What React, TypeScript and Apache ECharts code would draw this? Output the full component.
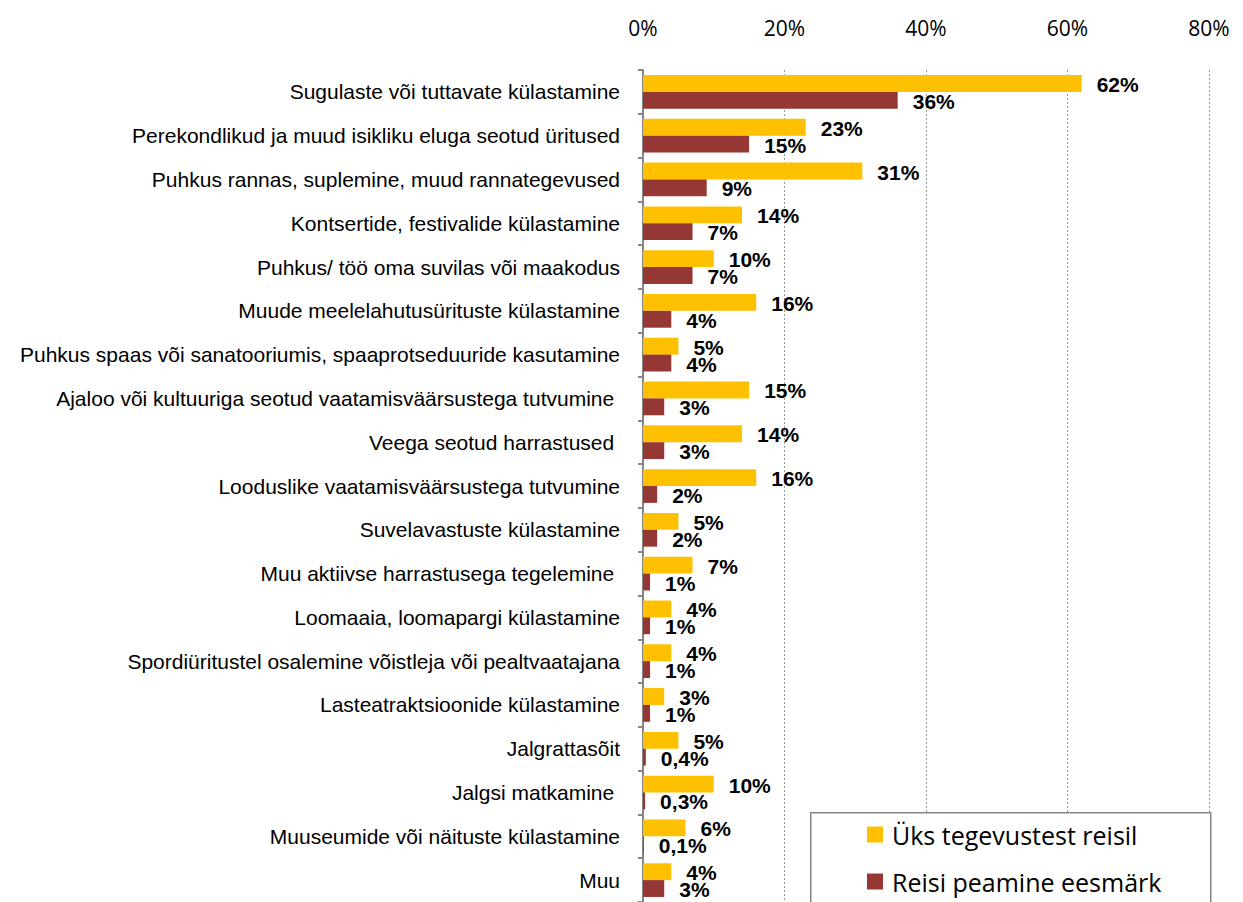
import React, { useEffect, useRef } from "react";
import * as echarts from "echarts";

const categories = [
  "Sugulaste või tuttavate külastamine",
  "Perekondlikud ja muud isikliku eluga seotud üritused",
  "Puhkus rannas, suplemine, muud rannategevused",
  "Kontsertide, festivalide külastamine",
  "Puhkus/ töö oma suvilas või maakodus",
  "Muude meelelahutusürituste külastamine",
  "Puhkus spaas või sanatooriumis, spaaprotseduuride kasutamine",
  "Ajaloo või kultuuriga seotud vaatamisväärsustega tutvumine ",
  "Veega seotud harrastused ",
  "Looduslike vaatamisväärsustega tutvumine",
  "Suvelavastuste külastamine",
  "Muu aktiivse harrastusega tegelemine ",
  "Loomaaia, loomapargi külastamine",
  "Spordiüritustel osalemine võistleja või pealtvaatajana",
  "Lasteatraktsioonide külastamine",
  "Jalgrattasõit",
  "Jalgsi matkamine ",
  "Muuseumide või näituste külastamine",
  "Muu",
];

const seriesNames = ["Üks tegevustest reisil", "Reisi peamine eesmärk"];

const oneOfActivities = [62, 23, 31, 14, 10, 16, 5, 15, 14, 16, 5, 7, 4, 4, 3, 5, 10, 6, 4];
const mainPurpose = [36, 15, 9, 7, 7, 4, 4, 3, 3, 2, 2, 1, 1, 1, 1, 0.4, 0.3, 0.1, 3];

const xTicks = [0, 20, 40, 60, 80];

const colors = ["#FFC000", "#953735"];

const labelStyle = {
  show: true,
  position: "right" as const,
  distance: 15,
  offset: [0, 1],
  color: "#000",
  fontFamily: "Liberation Sans, Arial, sans-serif",
  fontWeight: "bold" as const,
  fontSize: 21,
  formatter: (p: any) => String(p.value).replace(".", ",") + "%",
};

export default function App() {
  const ref = useRef<HTMLDivElement>(null);
  useEffect(() => {
    if (!ref.current) return;
    const chart = echarts.init(ref.current, undefined, { renderer: "svg" });
    chart.setOption({
      animation: false,
      backgroundColor: "#fff",
      grid: { left: 643, right: 34, top: 70, height: 837 },
      xAxis: {
        type: "value",
        position: "top",
        min: xTicks[0],
        max: xTicks[xTicks.length - 1],
        interval: 20,
        axisLine: { show: false },
        axisTick: { show: false },
        axisLabel: {
          formatter: "{value}%",
          margin: 32,
          color: "#000",
          fontSize: 21,
          fontFamily: "Open Sans, sans-serif",
        },
        splitLine: {
          show: true,
          lineStyle: { color: "#999", type: [2, 2], width: 1 },
        },
      },
      yAxis: {
        type: "category",
        data: categories,
        inverse: true,
        axisLine: { show: true, lineStyle: { color: "#868686", width: 2 } },
        axisTick: { show: true, length: 5, lineStyle: { color: "#868686", width: 2 } },
        axisLabel: {
          margin: 23,
          color: "#000",
          fontSize: 21,
          fontFamily: "Liberation Sans, Arial, sans-serif",
        },
        splitLine: { show: false },
      },
      legend: {
        orient: "vertical",
        left: 867,
        top: 822,
        padding: 0,
        itemWidth: 16,
        itemHeight: 16,
        itemGap: 22,
        icon: "rect",
        z: 20,
        textStyle: {
          fontSize: 25,
          color: "#000",
          fontFamily: "Open Sans, sans-serif",
          padding: [0, 0, 0, 4],
        },
        data: seriesNames,
      },
      graphic: [
        {
          type: "rect",
          z: 10,
          left: 810,
          top: 812,
          shape: { width: 400, height: 120 },
          style: { fill: "#fff", stroke: "#868686", lineWidth: 1.5 },
        },
      ],
      series: [
        {
          name: seriesNames[0],
          type: "bar",
          data: oneOfActivities,
          itemStyle: { color: colors[0] },
          barGap: "0%",
          barCategoryGap: "23%",
          label: labelStyle,
        },
        {
          name: seriesNames[1],
          type: "bar",
          data: mainPurpose,
          itemStyle: { color: colors[1] },
          barGap: "0%",
          barCategoryGap: "23%",
          label: labelStyle,
        },
      ],
    });
    return () => chart.dispose();
  }, []);
  return (
    <div
      ref={ref}
      style={{ position: "fixed", left: 0, top: 0, width: 1243, height: 902 }}
    />
  );
}
